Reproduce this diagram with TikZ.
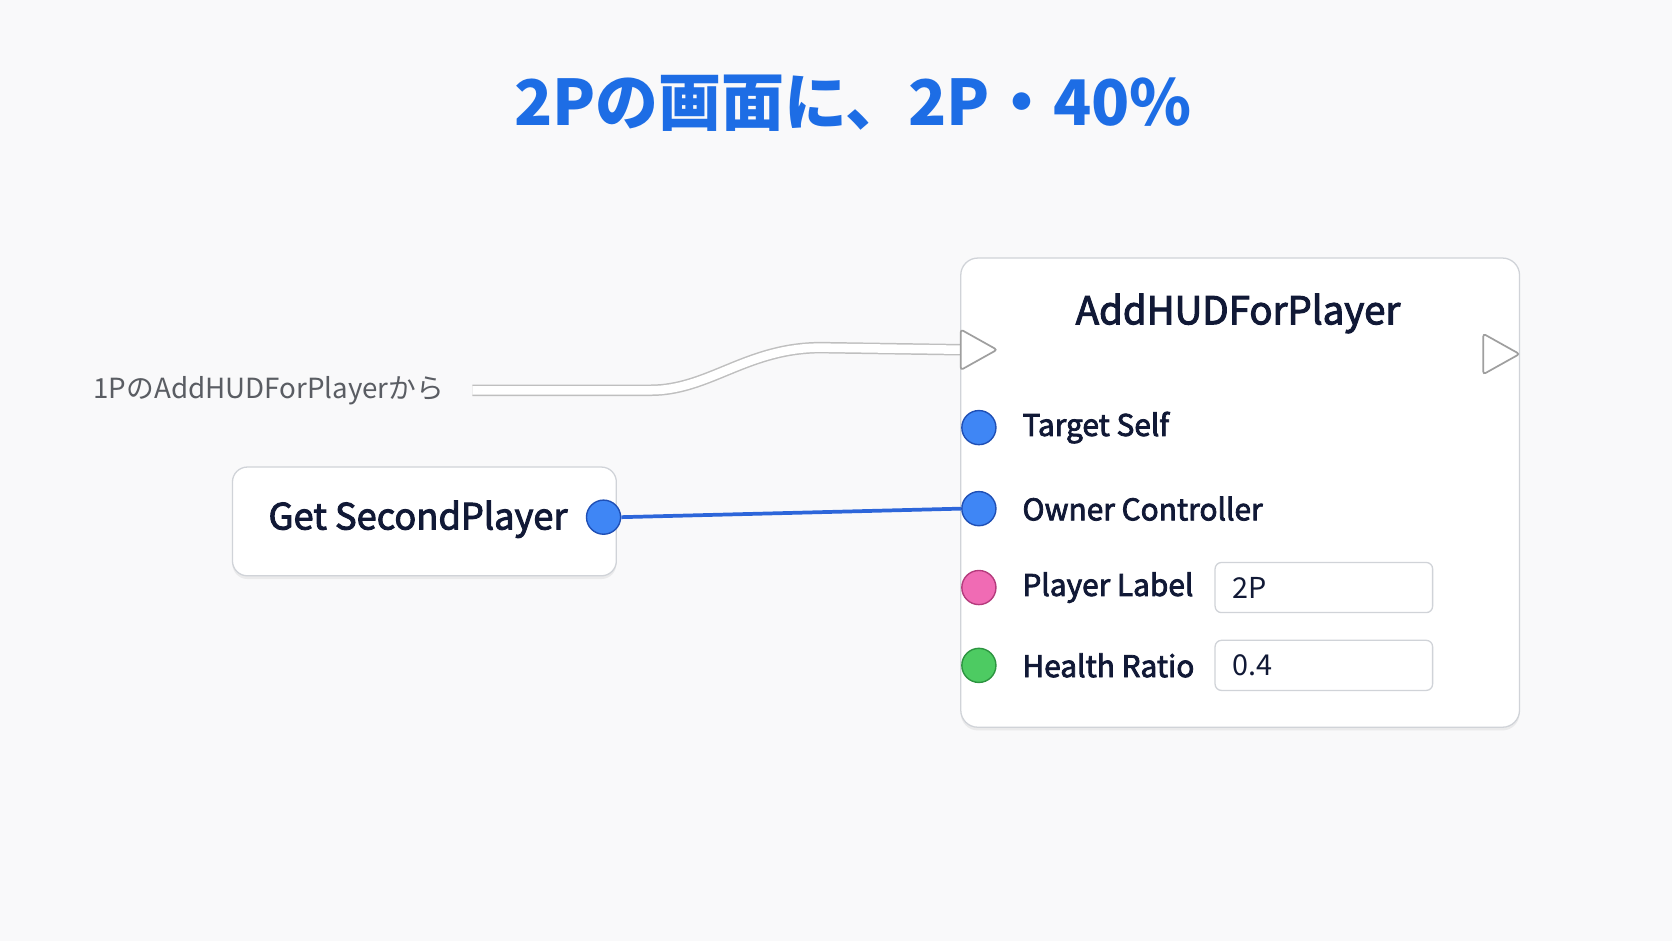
\documentclass[tikz,border=0pt]{standalone}
\usepackage{fontspec}
\setmainfont{Noto Sans CJK JP}
\newfontfamily\medfont[FakeBold=2.6]{Noto Sans CJK JP}
\usetikzlibrary{positioning, shadows}

\definecolor{bgcol}{HTML}{F9F9FA}
\definecolor{titleblue}{HTML}{1D6DE5}
\definecolor{navy}{HTML}{111936}
\definecolor{framegray}{HTML}{D0D3D8}
\definecolor{pinblue}{HTML}{3F86F5}
\definecolor{pinblueedge}{HTML}{1F4FB5}
\definecolor{pinpink}{HTML}{F06BB4}
\definecolor{pinpinkedge}{HTML}{B53B7D}
\definecolor{pingreen}{HTML}{4DCB62}
\definecolor{pingreenedge}{HTML}{2C9440}
\definecolor{wireblue}{HTML}{2D66DA}
\definecolor{labelgray}{HTML}{5A5D63}

\begin{document}
\begin{tikzpicture}[x=1pt, y=-1pt,
        card/.style={draw=framegray, fill=white, line width=1.2pt, rounded corners=16pt,
            drop shadow={opacity=0.12, shadow xshift=0pt, shadow yshift=-3pt}},
        headtext/.style={text=navy, font=\medfont\fontsize{36pt}{42pt}\selectfont, inner sep=0pt},
        pinlabel/.style={text=navy, font=\medfont\fontsize{28pt}{34pt}\selectfont, inner sep=0pt, anchor=west},
        pin/.style={circle, minimum size=32pt, inner sep=0pt, line width=1.3pt},
        execpin/.style={draw=gray!75, fill=white, line width=1.6pt, rounded corners=2.5pt},
        valbox/.style={draw=framegray, fill=white, line width=1.2pt, rounded corners=6pt,
            minimum height=47pt, text width=172pt, inner xsep=16pt, align=left,
            text=navy, font=\fontsize{27pt}{32pt}\selectfont},
        execwire/.style={draw=gray!50, double=white, double distance=8pt, line width=1.4pt},
        datawire/.style={draw=wireblue, line width=3.5pt}]
        % Background
        \fill[bgcol] (0,0) rectangle (1568,882);
        \useasboundingbox (0,0) rectangle (1568,882);

        % Title
        \node[text=titleblue, font=\bfseries\fontsize{59pt}{70pt}\selectfont] (title) at (800,97) {2Pの画面に、2P・40\%};

        % Add the nodes
        \node[card, minimum width=524pt, minimum height=440pt] (hud) at (1163,462) {};
        \node[headtext] (hudtitle) at (1161,294) {AddHUDForPlayer};
        \node[card, rounded corners=14pt, minimum width=360pt, minimum height=102pt] (getp) at (398,489) {};
        \node[text=navy, font=\medfont\fontsize{34pt}{40pt}\selectfont] (gettext) at (392,487) {Get SecondPlayer};

        % Exec pins and wire
        \coordinate (execin) at (902,328);
        \coordinate (execsrc) at (443,366);
        \node[anchor=east, text=labelgray, font=\fontsize{26pt}{31pt}\selectfont] (fromtext)
            at (420,366) {1PのAddHUDForPlayerから};
        \draw[execwire] (execsrc) -- (610,366) .. controls (665,366) and (700,326) .. (770,326) -- (execin);
        \draw[execpin] (901,309) -- (935,328) -- (901,347) -- cycle;
        \draw[execpin] (1391,313) -- (1425,332) -- (1391,351) -- cycle;

        % Data pins
        \node[pin, fill=pinblue, draw=pinblueedge]   (target) at (918,401) {};
        \node[pin, fill=pinblue, draw=pinblueedge]   (owner)  at (918,477) {};
        \node[pin, fill=pinpink, draw=pinpinkedge]   (plabel) at (918,551) {};
        \node[pin, fill=pingreen, draw=pingreenedge] (health) at (918,624) {};
        \node[pin, fill=pinblue, draw=pinblueedge]   (getout) at (566,485) {};

        \node[pinlabel, right=24pt of target] {Target Self};
        \node[pinlabel, right=24pt of owner]  {Owner Controller};
        \node[pinlabel, right=24pt of plabel] {Player Label};
        \node[pinlabel, right=24pt of health] {Health Ratio};

        \node[valbox] (labelval)  at (1241.5,551) {2P};
        \node[valbox] (healthval) at (1241.5,624) {0.4};

        % Data wire
        \draw[datawire] (getout.east) -- (owner.west);
\end{tikzpicture}
\end{document}
